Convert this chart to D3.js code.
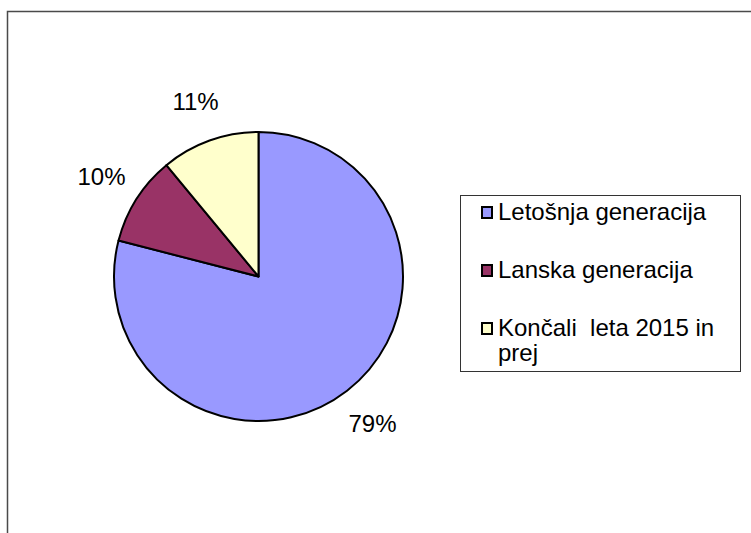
<!DOCTYPE html>
<html>
<head>
<meta charset="utf-8">
<script src="https://cdn.jsdelivr.net/npm/d3@7"></script>
<style>
  body { margin: 0; background: #fff; }
  text { font-family: "Liberation Sans", Arial, sans-serif; fill: #000; white-space: pre; }
</style>
</head>
<body>
<div id="chart"></div>
<script>
// chart data
var categories = ["Letošnja generacija", "Lanska generacija", "Končali  leta 2015 in prej"];
var legendLines = [["Letošnja generacija"], ["Lanska generacija"], ["Končali  leta 2015 in", "prej"]];
var values = [79, 10, 11];
var colors = ["#9999ff", "#993366", "#ffffcc"];

var width = 751,
    height = 533,
    cx = 258.5,
    cy = 276.5,
    radius = 144.5;

var svg = d3.select("#chart").append("svg")
    .attr("width", width)
    .attr("height", height);

// outer frame
svg.append("rect")
    .attr("x", 7.5)
    .attr("y", 11.5)
    .attr("width", 800)
    .attr("height", 600)
    .attr("fill", "none")
    .attr("stroke", "#4a4a4a")
    .attr("stroke-width", 1.5);

var pie = d3.pie().sort(null).value(function (d) { return d; });
var arcs = pie(values);

var arc = d3.arc().innerRadius(0).outerRadius(radius);
var labelArc = d3.arc().innerRadius(186).outerRadius(186);

var g = svg.append("g").attr("transform", "translate(" + cx + "," + cy + ")");

g.selectAll(".slice")
    .data(arcs)
    .enter()
    .append("path")
    .attr("class", "slice")
    .attr("d", arc)
    .attr("fill", function (d, i) { return colors[i]; })
    .attr("stroke", "#000")
    .attr("stroke-width", 2)
    .attr("stroke-linejoin", "round");

var total = d3.sum(values);
g.selectAll(".pct")
    .data(arcs)
    .enter()
    .append("text")
    .attr("class", "pct")
    .attr("x", function (d) { return labelArc.centroid(d)[0]; })
    .attr("y", function (d) { return labelArc.centroid(d)[1]; })
    .attr("dy", "0.35em")
    .attr("text-anchor", "middle")
    .style("font-size", "24px")
    .text(function (d) { return Math.round(d.value / total * 100) + "%"; });

// legend
var legend = svg.append("g");
legend.append("rect")
    .attr("x", 460.5)
    .attr("y", 195.5)
    .attr("width", 280)
    .attr("height", 176)
    .attr("fill", "#fff")
    .attr("stroke", "#333")
    .attr("stroke-width", 1);

var rowY = d3.scalePoint().domain(categories).range([220, 336]);

var items = legend.selectAll(".item")
    .data(categories)
    .enter()
    .append("g")
    .attr("class", "item")
    .attr("transform", function (d) { return "translate(0," + rowY(d) + ")"; });

items.append("rect")
    .attr("x", 482)
    .attr("y", -13)
    .attr("width", 10)
    .attr("height", 11)
    .attr("fill", function (d, i) { return colors[i]; })
    .attr("stroke", "#000")
    .attr("stroke-width", 2);

items.append("text")
    .attr("x", 498)
    .attr("y", 0)
    .style("font-size", "24px")
    .each(function (d, i) {
        var t = d3.select(this);
        legendLines[i].forEach(function (line, j) {
            t.append("tspan")
                .attr("x", 498)
                .attr("dy", j === 0 ? 0 : 25)
                .text(line);
        });
    });
</script>
</body>
</html>
